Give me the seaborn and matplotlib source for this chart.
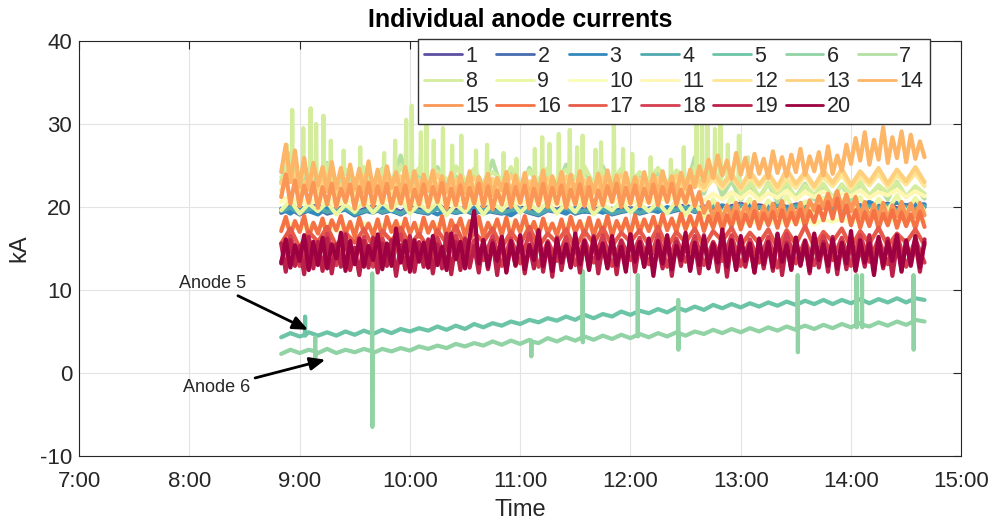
import numpy as np
import pandas as pd
import matplotlib
matplotlib.use("Agg")
import matplotlib.pyplot as plt
import seaborn as sns

# ---------------- data ----------------
# clock minutes since midnight of the first sample (8:50)
start_minute = 530
# most anodes: one reading every 5 minutes; the busiest bands every 2.5 minutes
coarse_step = 5.0
fine_step = 2.5

anode01 = [19.6,20.1,19.4,19.9,20.2,19.5,19.8,20.0,19.3,19.7,
           20.1,19.6,19.9,19.4,20.0,19.7,19.5,20.2,19.8,19.6,
           19.9,19.4,20.1,19.7,19.5,19.8,20.0,19.6,19.3,19.9,
           19.7,20.1,19.5,19.8,19.6,20.0,19.4,19.7,19.9,19.5,
           19.8,20.1,19.6,19.9,20.2,19.7,20.0,20.3,19.8,20.1,
           20.4,19.9,20.2,20.0,20.5,19.8,20.3,20.1,19.9,20.4,
           20.2,20.0,20.5,19.9,20.3,20.1,20.4,19.8,20.2,20.0,
           20.3]
anode02 = [19.3,19.8,19.1,19.6,19.9,19.2,19.5,19.7,19.0,19.4,
           19.8,19.3,19.6,19.1,19.7,19.4,19.2,19.9,19.5,19.3,
           19.6,19.1,19.8,19.4,19.2,19.5,19.7,19.3,19.0,19.6,
           19.4,19.8,19.2,19.5,19.3,19.7,19.1,19.4,19.6,19.2,
           19.5,19.8,19.3,19.6,19.9,19.4,19.7,20.0,19.5,19.8,
           20.1,19.6,19.9,19.7,20.2,19.5,20.0,19.8,19.6,20.1,
           19.9,19.7,20.2,19.6,20.0,19.8,20.1,19.5,19.9,19.7,
           20.0]
anode03 = [19.8,19.2,20.0,19.5,19.1,19.9,19.4,19.7,19.0,19.6,
           19.3,19.9,19.5,19.2,19.8,19.4,19.6,19.1,19.7,19.3,
           19.5,19.9,19.2,19.6,19.4,19.0,19.7,19.5,19.3,19.8,
           19.6,19.2,19.9,19.4,19.7,19.3,19.8,19.5,19.6,19.9,
           19.7,19.4,20.0,19.6,19.8,20.1,19.7,19.9,20.2,19.8,
           20.0,20.3,19.9,20.1,20.4,20.0,20.2,20.5,20.1,19.9,
           20.3,20.0,20.4,20.2,20.6,20.1,20.3,20.5,20.2,20.4,
           20.3]
anode04 = [19.5,19.9,19.3,19.7,20.0,19.4,19.6,19.9,19.2,19.5,
           19.8,19.4,19.7,19.2,19.9,19.5,19.3,19.8,19.6,19.4,
           19.7,19.2,19.9,19.5,19.3,19.6,19.8,19.4,19.1,19.7,
           19.5,19.9,19.3,19.6,19.4,19.8,19.2,19.5,19.7,19.3,
           19.6,19.9,19.4,19.7,20.0,19.5,19.8,20.1,19.6,19.9,
           20.2,19.7,20.0,19.8,20.3,19.6,20.1,19.9,19.7,20.2,
           20.0,19.8,20.3,19.7,20.1,19.9,20.2,19.6,20.0,19.8,
           20.1]
anode05 = [4.3,4.8,4.4,4.9,4.5,4.9,4.5,5.0,4.6,5.1,
           4.7,5.2,4.8,5.3,5.0,5.4,5.1,5.6,5.2,5.7,
           5.3,5.9,5.5,6.0,5.7,6.2,5.9,6.4,6.1,6.6,
           6.3,6.8,6.4,7.0,6.6,7.1,6.8,7.4,7.0,7.5,
           7.2,7.7,7.3,7.9,7.5,8.0,7.6,8.2,7.8,8.3,
           7.9,8.4,8.0,8.5,8.1,8.6,8.2,8.7,8.3,8.8,
           8.3,8.8,8.4,8.9,8.4,8.9,8.5,9.0,8.5,9.0,
           8.8]
anode05_spike_min = [543]
anode05_spike_top = [6.8]
anode05_spike_low = [4.5]
anode05_spike_base = [4.6]
anode06 = [2.3,2.8,2.4,2.8,2.4,2.9,2.4,2.8,2.5,2.9,
           2.4,2.9,2.6,3.0,2.7,3.2,2.9,3.3,3.0,3.5,
           3.2,3.6,3.3,3.8,3.4,3.9,3.5,4.0,3.6,4.2,
           3.8,4.3,3.9,4.4,4.0,4.5,4.1,4.6,4.2,4.7,
           4.3,4.8,4.4,4.9,4.5,5.0,4.7,5.2,4.8,5.3,
           4.9,5.4,5.0,5.5,5.1,5.6,5.2,5.7,5.3,5.8,
           5.4,5.9,5.5,6.0,5.6,6.1,5.7,6.2,5.8,6.4,
           6.2]
anode06_spike_min = [548.5, 579.5, 666, 694, 724, 746, 811, 843, 846, 874]
anode06_spike_top = [4.3, 12.0, 3.9, 12.3, 11.8, 8.8, 11.8, 11.8, 11.8, 11.8]
anode06_spike_low = [1.9, -6.5, 2.0, 3.7, 4.4, 2.8, 2.5, 5.5, 5.5, 2.8]
anode06_spike_base = [2.6, 2.6, 3.8, 4.3, 4.6, 4.8, 5.4, 5.8, 5.8, 6.2]
anode07 = [23.0,26.5,22.2,24.1,22.6,25.3,22.0,24.4,22.5,23.9,
           22.1,24.6,22.7,26.2,22.3,24.0,21.9,24.8,22.4,23.7,
           22.0,24.5,22.6,25.6,22.2,24.2,21.8,24.7,22.5,23.8,
           22.3,25.1,21.9,24.3,22.6,24.9,22.1,24.0,22.4,23.6,
           21.8,24.4,22.2,23.9,22.0,26.0,21.6,24.6,21.3,23.2,
           20.8,22.6,21.0,22.9,20.6,22.4,21.2,22.8,20.9,22.5,
           21.1,22.7,20.7,22.9,21.3,22.6,20.9,23.0,21.2,22.4,
           21.0]
anode08 = [23.6,24.9,23.0,24.6,23.4,25.1,22.8,24.5,23.3,24.8,
           22.9,24.4,23.5,25.0,23.1,24.7,22.7,24.3,23.4,24.9,
           23.0,24.6,22.8,24.2,23.3,24.8,22.6,24.4,23.2,24.7,
           22.9,24.5,23.4,24.9,22.7,24.3,23.1,24.6,22.8,24.2,
           23.2,24.7,22.9,24.4,23.0,24.8,22.7,24.5,22.4,23.6,
           21.6,23.1,21.2,22.8,21.5,22.9,21.0,22.6,21.4,22.8,
           21.1,22.7,21.5,23.0,21.3,22.6,21.7,22.9,21.2,22.5,
           21.6]
anode08_spike_min = [533, 536, 542, 546, 549, 553, 557, 564, 573, 586,
                     592, 598, 601, 606, 609, 613, 618, 623, 628, 636,
                     642, 651, 658, 668, 672, 676, 681, 687, 691, 694,
                     701, 704, 711, 716, 721, 731, 742, 749, 756, 759,
                     762, 766, 769, 773, 779, 784]
anode08_spike_top = [27.5, 31.7, 29.5, 31.9, 30.0, 31.0, 28.0, 26.8, 27.2, 26.5,
                     28.0, 30.5, 32.2, 29.0, 30.3, 28.0, 29.5, 27.4, 28.6, 26.8,
                     27.5, 26.5, 25.8, 27.0, 28.4, 27.6, 28.8, 29.3, 27.2, 28.6,
                     26.9, 27.8, 30.6, 27.0, 26.4, 26.0, 25.7, 27.2, 30.9, 30.5,
                     31.2, 29.4, 30.0, 27.5, 28.6, 26.0]
anode08_spike_low = [23.8, 23.2, 24.0, 23.5, 23.9, 23.1, 23.6, 24.1, 23.4, 23.7,
                     23.2, 23.9, 23.5, 24.0, 23.3, 23.8, 23.6, 23.1, 23.9, 23.4,
                     23.7, 23.2, 23.8, 23.5, 23.9, 23.3, 23.6, 24.0, 23.4, 23.7,
                     23.1, 23.8, 23.5, 23.9, 23.2, 23.6, 23.4, 23.7, 23.3, 23.8,
                     23.5, 23.9, 23.2, 23.6, 22.8, 22.4]
anode09 = [19.6,20.8,19.2,20.4,19.5,20.6,19.1,20.3,19.4,20.7,
           19.3,20.5,19.6,20.9,19.2,20.4,19.5,20.6,19.0,20.3,
           19.4,20.7,19.1,20.5,19.6,20.8,19.3,20.4,19.5,20.6,
           19.2,20.5,19.4,20.9,19.1,20.3,19.6,20.7,19.3,20.4,
           19.5,20.6,19.2,20.8,19.0,20.5,18.8,20.9,19.1,21.2,
           19.3,21.0,18.9,20.8,19.2,21.3,19.0,20.7,19.4,21.1,
           19.1,20.9,19.5,21.2,19.2,21.0,19.6,21.4,19.3,21.1,
           19.5]
anode10 = [17.5,18.0,17.2,17.8,17.4,17.9,17.1,17.7,17.5,18.1,
           17.3,17.8,17.6,18.0,17.2,17.7,17.4,17.9,17.1,17.8,
           17.5,18.0,17.3,17.7,17.6,18.1,17.2,17.8,17.4,17.9,
           17.3,17.9,17.5,18.0,17.2,17.8,17.6,17.9,17.4,18.1,
           17.5,18.0,17.7,18.2,17.6,18.1,17.8,18.3,17.9,18.4,
           17.8,18.3,18.0,18.5,17.9,18.4,18.1,18.6,17.9,18.5,
           18.2,18.7,18.0,18.6,18.3,18.8,18.1,18.7,18.2,18.6,
           18.3]
anode11 = [20.6,21.4,20.2,21.0,20.4,21.2,20.1,20.9,20.5,21.3,
           20.3,21.1,20.6,21.4,20.2,20.9,20.5,21.2,20.1,21.0,
           20.4,21.3,20.2,21.0,20.6,21.2,20.3,20.9,20.5,21.4,
           20.2,21.1,20.4,21.3,20.1,20.8,20.6,21.2,20.3,21.0,
           20.5,21.3,20.7,21.5,20.4,21.2,20.8,21.6,20.9,21.8,
           21.0,21.9,20.8,21.7,21.1,22.0,20.9,21.8,21.2,21.9,
           21.0,21.7,21.3,22.0,21.1,21.8,21.4,22.1,21.2,21.9,
           21.3]
anode12 = [22.0,24.1,21.3,22.9,21.6,23.1,21.2,22.7,21.5,23.0,
           21.1,22.8,21.7,23.2,21.4,22.6,21.0,22.9,21.6,23.1,
           21.3,22.7,21.8,23.0,21.2,22.5,21.5,22.9,21.1,22.8,
           21.6,23.1,21.3,22.6,21.7,22.9,21.2,23.0,21.5,22.7,
           21.4,22.8,21.8,23.2,21.6,23.0,22.0,23.4,22.2,23.6,
           22.1,23.5,22.4,23.7,22.0,23.4,22.3,23.8,22.2,23.6,
           22.5,23.9,22.2,23.7,22.6,24.0,22.4,23.8,22.7,24.1,
           22.5]
anode13 = [22.8,25.0,21.9,23.6,22.2,23.9,21.7,23.4,22.0,23.8,
           21.8,23.5,22.3,23.7,21.6,23.2,22.1,23.9,21.9,23.3,
           22.2,23.6,21.7,23.4,22.0,23.8,21.8,23.1,22.3,23.5,
           21.9,23.7,22.1,23.3,21.6,23.6,22.2,23.9,21.8,23.4,
           22.0,23.5,22.3,23.8,22.1,23.6,22.4,24.2,22.6,24.0,
           22.3,24.3,22.7,24.1,22.4,24.5,22.8,24.2,22.5,24.4,
           22.9,24.6,22.6,24.3,23.0,24.7,22.8,24.5,23.1,24.8,
           23.0]
# 2.5-minute readings
anode14 = [24.2,27.5,23.0,26.8,22.4,25.9,22.1,25.3,22.6,24.8,
           21.9,25.4,22.3,24.7,21.7,25.1,22.2,24.6,21.8,25.5,
           22.0,24.5,21.6,24.9,22.3,24.2,21.5,24.8,21.9,24.3,
           21.4,23.9,22.0,24.4,21.3,23.7,21.8,24.1,21.2,23.8,
           21.7,24.3,21.1,23.6,21.9,24.0,21.4,23.5,22.0,24.2,
           21.3,23.8,21.8,24.1,21.2,23.6,21.6,24.4,21.1,23.7,
           21.9,24.2,21.4,23.9,21.7,24.3,21.2,23.5,21.8,24.0,
           21.5,24.4,21.9,23.8,21.3,24.1,21.7,23.6,21.4,24.2,
           21.8,23.9,21.5,24.3,22.0,23.7,21.6,24.1,22.2,24.5,
           22.4,24.9,23.1,25.7,23.5,26.2,23.8,25.6,23.4,26.5,
           23.9,25.9,23.6,26.4,24.0,25.8,23.5,26.7,24.1,26.0,
           23.7,26.3,24.2,27.0,23.9,26.1,24.3,26.6,23.8,27.3,
           24.0,26.2,24.4,27.5,25.2,28.3,25.6,29.0,25.1,28.1,
           25.7,29.6,25.3,28.4,25.9,29.1,25.4,28.7,25.8,27.9,
           26.0]
anode15 = [21.2,23.9,20.4,23.2,20.1,22.6,20.5,22.9,19.9,22.4,
           20.3,22.8,20.0,22.2,20.6,22.7,19.8,22.4,20.2,22.9,
           20.1,22.5,20.5,22.8,19.9,22.3,20.4,22.6,19.7,22.1,
           20.3,22.7,20.0,22.4,20.6,22.9,19.8,22.2,20.2,22.6,
           19.9,22.3,20.4,22.8,20.1,22.5,19.7,22.0,20.3,22.7,
           20.0,22.4,20.5,22.6,19.8,22.2,20.2,22.8,20.0,22.3,
           20.4,22.6,19.9,22.1,20.3,22.7,20.1,22.4,19.8,22.0,
           20.2,22.5,20.6,22.8,20.0,22.3,20.4,22.6,20.1,22.2,
           20.5,22.7,20.2,22.4,20.6,22.8,20.3,22.1,20.5,22.5,
           20.1,21.8,19.3,20.6,18.6,20.4,18.4,20.2,18.7,20.5,
           18.5,20.3,18.8,20.6,18.3,20.1,18.6,20.4,18.9,20.7,
           18.4,20.2,18.7,20.5,18.9,20.8,19.6,21.3,19.9,21.6,
           20.2,21.9,19.8,21.5,19.5,21.2,18.8,20.6,18.5,20.3,
           18.7,20.5,18.4,20.2,18.9,20.6,18.6,20.4,18.8,20.5,
           19.0]
anode16 = [17.1,18.8,16.6,18.3,17.0,18.9,16.4,18.1,16.8,18.6,
           16.5,18.4,17.2,18.9,16.7,18.2,16.4,18.7,16.9,18.0,
           16.6,18.5,16.3,18.8,17.0,18.3,16.5,18.6,16.8,18.1,
           16.4,18.7,16.9,18.2,16.6,18.9,16.3,18.4,17.1,18.6,
           16.5,18.3,16.8,18.8,16.4,18.1,16.9,18.5,16.6,18.7,
           16.3,18.4,17.0,18.9,16.7,18.2,16.5,18.6,16.8,18.0,
           16.6,18.5,16.4,18.8,16.9,18.3,16.6,18.7,16.5,18.4,
           16.8,18.9,16.5,18.3,17.0,18.6,16.7,19.0,16.9,18.5,
           17.1,18.8,16.8,19.1,17.2,18.6,17.0,19.2,17.3,18.9,
           17.4,19.3,17.1,18.9,17.5,19.2,17.2,19.0,17.6,19.4,
           17.3,19.1,17.7,19.5,17.4,19.2,17.8,19.4,17.5,19.6,
           17.7,19.3,17.9,19.7,17.6,19.5,18.2,20.1,18.4,20.6,
           18.6,21.0,18.3,20.2,17.8,19.6,17.5,19.3,17.7,19.5,
           17.4,19.2,17.8,19.6,17.5,19.3,17.7,19.1,17.4,19.4,
           17.6]
anode17 = [15.6,17.4,15.1,17.0,15.8,17.6,15.3,16.9,15.7,17.3,
           15.2,17.1,15.9,17.5,15.4,16.8,15.0,17.2,15.6,17.7,
           15.3,16.9,15.8,17.4,15.1,17.0,15.5,17.6,15.2,16.8,
           15.7,17.3,15.0,17.1,15.6,17.5,15.3,16.9,15.8,17.2,
           15.4,17.6,15.1,17.0,15.7,17.4,15.2,17.1,15.9,17.5,
           15.3,16.9,15.6,17.3,15.0,17.2,15.5,17.7,15.2,17.0,
           15.8,17.4,15.1,17.1,15.6,17.5,15.3,16.8,15.7,17.3,
           15.4]
anode18 = [13.4,16.5,12.9,16.1,13.6,16.8,13.0,15.9,13.5,16.4,
           12.8,16.2,13.3,16.7,13.1,15.8,12.7,16.3,13.4,16.6,
           13.0,16.0,13.6,16.5,12.9,16.2,13.2,16.8,12.8,15.9,
           13.5,16.4,13.0,16.1,13.3,16.6,12.9,16.0,13.6,16.3,
           13.1,16.7,12.8,16.2,13.4,16.5,13.0,15.8,13.5,16.6,
           12.9,16.1,13.3,16.4,12.7,16.8,13.2,16.0,13.0,16.5,
           13.6,16.3,12.9,16.6,13.4,16.2,13.1,16.7,12.8,16.1,
           13.3]
anode19 = [15.6,12.2,16.0,12.9,15.3,11.9,16.4,12.6,15.8,12.3,
           16.2,12.0,15.5,12.8,16.7,12.4,15.1,11.8,15.9,12.7,
           16.3,12.1,15.6,12.9,16.0,11.7,15.4,12.5,16.5,12.2,
           15.7,12.8,16.1,12.0,15.5,12.6,16.8,11.9,15.8,12.4,
           16.2,12.7,15.3,12.1,16.0,12.5,15.9,11.8,16.4,12.3,
           15.6,12.9,16.1,12.0,15.4,12.6,16.6,12.2,15.7,11.6,
           16.3,12.4,15.5,12.8,16.0,12.1,15.8,12.6,16.5,12.0,
           15.4,12.7,16.2,11.9,15.9,12.5,16.7,12.2,15.6,12.8,
           16.0,12.3,15.3,12.6,16.4,11.7,15.8,12.9,16.1,12.4,
           15.5,12.0,16.6,12.7,15.7,12.2,16.3,11.6,15.9,12.5,
           16.2,12.8,15.4,12.1,16.0,12.6,15.6,12.3,16.8,11.8,
           15.7,12.4,16.3,12.9,15.5,12.0,16.1,12.7,15.8,12.2,
           16.4,11.9,15.6,12.5,16.0,12.3,15.3,12.8,16.6,12.1,
           15.9,12.6,16.2,11.7,15.5,12.4,16.0,12.9,15.7,12.2,
           16.1]
anode20 = [13.2,16.1,12.7,15.4,13.5,16.6,12.4,15.8,13.0,16.3,
           12.6,15.5,13.8,16.9,12.3,15.9,13.1,16.2,12.8,15.3,
           13.6,16.7,12.5,15.6,12.9,17.4,13.3,15.9,12.2,16.0,
           13.4,15.7,12.7,16.5,13.0,15.2,12.4,16.8,13.7,15.8,
           12.6,16.3,19.5,13.2,16.0,12.8,15.6,13.5,16.4,12.1,
           15.9,13.0,16.6,12.5,15.4,13.6,17.2,12.9,15.7,12.3,
           16.1,13.3,15.5,12.7,16.8,13.1,15.9,12.4,16.3,13.8,
           15.6,12.6,16.5,13.0,15.2,12.2,16.7,13.4,15.8,12.8,
           16.2,11.7,15.9,13.2,16.6,12.5,15.3,13.6,16.9,12.3,
           15.7,13.0,16.4,12.6,15.5,13.3,17.3,12.8,16.0,12.4,
           16.5,13.5,15.6,12.1,16.2,13.1,15.8,12.7,16.7,13.4,
           15.4,12.5,16.3,13.0,15.9,12.3,16.8,13.6,15.5,12.9,
           16.1,12.6,15.7,13.2,17.1,12.4,16.0,13.3,15.6,11.8,
           16.4,12.9,15.8,13.5,16.6,12.2,15.9,13.0,16.5,12.7,
           15.7]

anode_labels = [str(n) for n in range(1, 21)]
xtick_hours = [7, 8, 9, 10, 11, 12, 13, 14, 15]
xtick_labels = ["7:00", "8:00", "9:00", "10:00", "11:00", "12:00", "13:00", "14:00", "15:00"]
ytick_values = [-10, 0, 10, 20, 30, 40]
ytick_labels = ["-10", "0", "10", "20", "30", "40"]


def series_points(values, step=coarse_step, s_min=(), s_top=(), s_low=(), s_base=None):
    t = [start_minute + step * i for i in range(len(values))]
    v = list(values)
    for k, T in enumerate(s_min):
        if s_base is None:      # narrow upward spike
            t += [T - 0.3, T, T + 0.3]
            v += [s_low[k], s_top[k], s_low[k]]
        else:                   # vertical up/down glitch
            t += [T - 0.1, T, T + 0.1, T + 0.2]
            v += [s_base[k], s_top[k], s_low[k], s_base[k]]
    order = np.argsort(t, kind="mergesort")
    return np.asarray(t, float)[order], np.asarray(v, float)[order]


all_series = [
    series_points(anode01), series_points(anode02), series_points(anode03),
    series_points(anode04),
    series_points(anode05, coarse_step, anode05_spike_min, anode05_spike_top,
                  anode05_spike_low, anode05_spike_base),
    series_points(anode06, coarse_step, anode06_spike_min, anode06_spike_top,
                  anode06_spike_low, anode06_spike_base),
    series_points(anode07),
    series_points(anode08, coarse_step, anode08_spike_min, anode08_spike_top,
                  anode08_spike_low),
    series_points(anode09), series_points(anode10), series_points(anode11),
    series_points(anode12), series_points(anode13),
    series_points(anode14, fine_step), series_points(anode15, fine_step),
    series_points(anode16, fine_step), series_points(anode17),
    series_points(anode18), series_points(anode19, fine_step),
    series_points(anode20, fine_step),
]

frames = []
for lab, (t, v) in zip(anode_labels, all_series):
    frames.append(pd.DataFrame({"hour": t / 60.0, "kA": v, "anode": lab}))
df = pd.concat(frames, ignore_index=True)

# ---------------- style ----------------
sns.set_theme(style="whitegrid")
plt.rcParams["font.family"] = ["Liberation Sans", "DejaVu Sans"]
plt.rcParams["axes.unicode_minus"] = False

cmap = plt.get_cmap("Spectral_r")
palette = [cmap(i / 19) for i in range(20)]

fig = plt.figure(figsize=(9.9, 5.24), dpi=100)
ax = fig.add_axes([0.0798, 0.1298, 0.971 - 0.0798, 0.9218 - 0.1298])

sns.lineplot(data=df, x="hour", y="kA", hue="anode", hue_order=anode_labels,
             palette=palette, estimator=None, sort=False, linewidth=3.0,
             ax=ax, legend=True)

ax.set_xlim(7, 15)
ax.set_ylim(-10, 40)
ax.set_xticks(xtick_hours)
ax.set_xticklabels(xtick_labels)
ax.set_yticks(ytick_values)
ax.set_yticklabels(ytick_labels)
ax.set_facecolor("white")
ax.grid(True, color="#e3e3e3", linewidth=0.8)
ax.set_axisbelow(True)
for sp in ax.spines.values():
    sp.set_visible(True)
    sp.set_color("#262626")
    sp.set_linewidth(0.8)
ax.tick_params(direction="in", length=6, width=0.8, top=True, right=True,
               labelsize=16, color="#262626", labelcolor="#262626")
ax.tick_params(axis="y", pad=5)
ax.tick_params(axis="x", pad=11)

ax.set_title("Individual anode currents", fontsize=18, fontweight="bold",
             color="black", pad=10)
ax.set_xlabel("Time", fontsize=17, color="#262626", labelpad=5)
ax.set_ylabel("kA", fontsize=17, color="#262626", labelpad=7)

# legend: 7 columns, filled row by row
handles, labels = ax.get_legend_handles_labels()
hmap = dict(zip(labels, handles))
ncol, nrow = 7, 3
ordered = []
for c in range(ncol):
    for r in range(nrow):
        idx = r * ncol + c
        if idx < len(anode_labels):
            ordered.append(anode_labels[idx])
leg = ax.legend([hmap[l] for l in ordered], ordered, ncol=ncol,
                loc="upper right", bbox_to_anchor=(0.964, 1.004),
                borderaxespad=0, fontsize=15.5, handlelength=1.75,
                handletextpad=0.15, columnspacing=0.35, labelspacing=0.2,
                borderpad=0.3, frameon=True, fancybox=False, framealpha=1)
leg.get_frame().set_edgecolor("#333333")
leg.get_frame().set_linewidth(1.0)
for h in leg.get_lines():
    h.set_linewidth(2.0)

arrow = dict(arrowstyle="-|>,head_length=0.7,head_width=0.3", color="black",
             lw=2.0, shrinkA=1, shrinkB=0)
ax.annotate("Anode 5", xy=(9 + 4.6 / 60, 5.2), xytext=(8.21, 10.8),
            ha="center", va="center", fontsize=13, arrowprops=arrow)
ax.annotate("Anode 6", xy=(9 + 14 / 60, 1.6), xytext=(8.25, -1.8),
            ha="center", va="center", fontsize=13, arrowprops=arrow)

fig.savefig("out.png", dpi=100)
